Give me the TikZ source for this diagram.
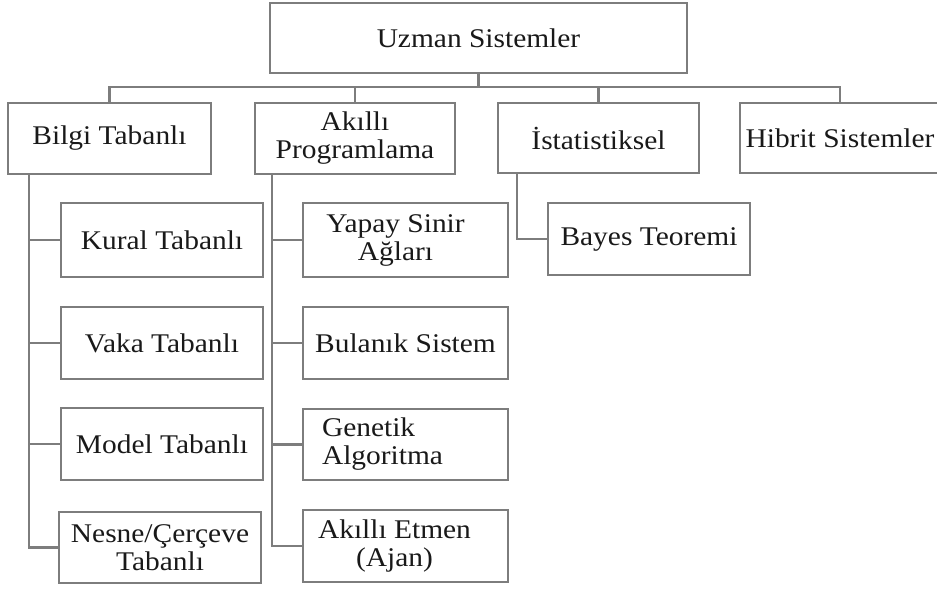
\documentclass[tikz,border=0pt]{standalone}
\usepackage{fontspec}
\setmainfont{Liberation Serif}[FakeStretch=1.09]
\definecolor{edge}{RGB}{125,125,125}
\definecolor{ink}{RGB}{25,25,25}
\begin{document}
\begin{tikzpicture}[x=1pt,y=-1pt,
  every node/.style={font=\fontsize{27}{28}\selectfont, text=ink},
  box/.style={draw=edge, line width=2.2pt, rectangle, inner sep=0pt, align=center},
  link/.style={draw=edge, line width=2.2pt}]
\useasboundingbox (0,0) rectangle (937,590);
\clip (0,0) rectangle (937,590);

% top level
\node[box, minimum width=417pt, minimum height=70pt] (root) at (478.5,38) {Uzman Sistemler};

% second level
\node[box, minimum width=203pt, minimum height=71pt] (bilgi) at (109.5,138.5) {Bilgi Tabanlı};
\node[box, minimum width=200pt, minimum height=71pt] (akilli) at (355,138.5) {Akıllı\\Programlama};
\node[box, minimum width=201pt, minimum height=70pt] (istat) at (598.5,138) {İstatistiksel};
\node[box, minimum width=200pt, minimum height=70pt] (hibrit) at (840,138) {Hibrit Sistemler};

% knowledge based branch
\node[box, minimum width=202pt, minimum height=74pt] (kural) at (162,240) {Kural Tabanlı};
\node[box, minimum width=202pt, minimum height=72pt] (vaka) at (162,343) {Vaka Tabanlı};
\node[box, minimum width=202pt, minimum height=72pt] (model) at (162,444) {Model Tabanlı};
\node[box, minimum width=202pt, minimum height=71pt] (nesne) at (160,547.5) {Nesne/Çerçeve\\Tabanlı};

% intelligent programming branch
\node[box, minimum width=205pt, minimum height=74pt] (yapay) at (405.5,240) {Yapay Sinir\hspace*{20pt}\\Ağları\hspace*{20pt}};
\node[box, minimum width=205pt, minimum height=72pt] (bulanik) at (405.5,343) {Bulanık Sistem};
\node[box, align=left, text width=167pt, inner xsep=19pt, minimum height=71pt] (genetik) at (405.5,444.5) {Genetik\\Algoritma};
\node[box, minimum width=205pt, minimum height=72pt] (etmen) at (405.5,546) {Akıllı Etmen\hspace*{22pt}\\(Ajan)\hspace*{22pt}};

% statistical branch
\node[box, minimum width=202pt, minimum height=72pt] (bayes) at (649,239) {Bayes Teoremi};

% bus below the root
\coordinate (bus) at (478.5,87);
\draw[link] (root.south) -- (bus);
\draw[link] (bilgi.north) -- (bilgi.north |- bus) -- (hibrit.north |- bus) -- (hibrit.north);
\draw[link] (akilli.north) -- (akilli.north |- bus);
\draw[link] (istat.north) -- (istat.north |- bus);

% spines
\coordinate (bsp) at ([xshift=22pt]bilgi.south west);
\coordinate (asp) at ([xshift=18pt]akilli.south west);
\coordinate (isp) at ([xshift=20pt]istat.south west);

\draw[link] (bsp) |- (nesne.west);
\draw[link] (bsp |- kural.west) -- (kural.west);
\draw[link] (bsp |- vaka.west) -- (vaka.west);
\draw[link] (bsp |- model.west) -- (model.west);

\draw[link] (asp) |- (etmen.west);
\draw[link] (asp |- yapay.west) -- (yapay.west);
\draw[link] (asp |- bulanik.west) -- (bulanik.west);
\draw[link] (asp |- genetik.west) -- (genetik.west);

\draw[link] (isp) |- (bayes.west);
\end{tikzpicture}
\end{document}
